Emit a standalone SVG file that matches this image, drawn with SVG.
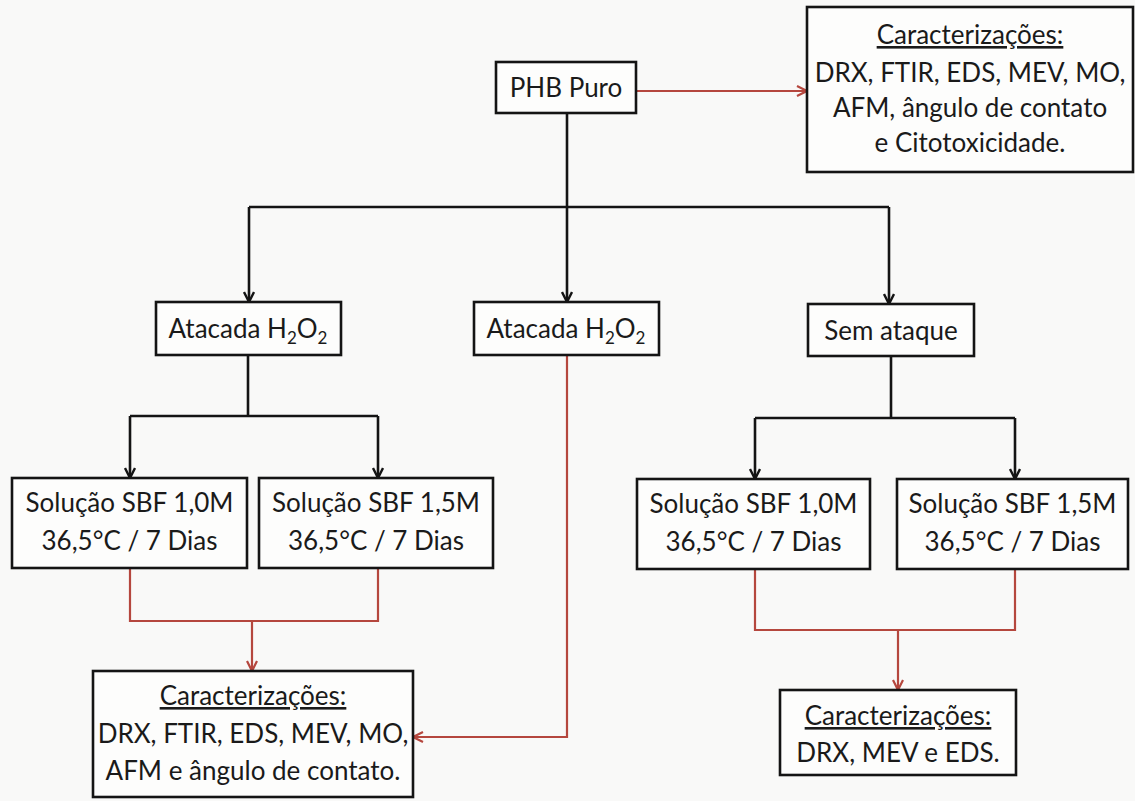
<svg xmlns="http://www.w3.org/2000/svg" width="1135" height="801" viewBox="0 0 1135 801">
<defs>
<style>
.bg{fill:#f9f9f8}
.box{fill:#fdfdfc;stroke:#141414;stroke-width:2.6}
.t{font-family:Lato,"Open Sans","Liberation Sans",sans-serif;font-size:26px;fill:#1a1a1a;text-anchor:middle}
.u{text-decoration:underline}
.sub{font-size:17px}
.blk{fill:none;stroke:#141414;stroke-width:2.6}
.red{fill:none;stroke:#b5473e;stroke-width:2.2}
</style>
<marker id="ab" viewBox="0 0 12 12" refX="11" refY="6" markerWidth="12" markerHeight="12" markerUnits="userSpaceOnUse" orient="auto"><path d="M1,1 L11,6 L1,11" fill="none" stroke="#141414" stroke-width="2.4"/></marker>
<marker id="ar" viewBox="0 0 12 12" refX="11" refY="6" markerWidth="12" markerHeight="12" markerUnits="userSpaceOnUse" orient="auto"><path d="M1,1 L11,6 L1,11" fill="none" stroke="#b5473e" stroke-width="2.2"/></marker>
</defs>
<rect class="bg" x="0" y="0" width="1135" height="801"/>
<g id="connectors">
<path class="blk" d="M567,113 V208"/>
<path class="blk" d="M249,207 H889"/>
<path class="blk" d="M249,207 V302" marker-end="url(#ab)"/>
<path class="blk" d="M567,207 V302" marker-end="url(#ab)"/>
<path class="blk" d="M889,207 V304" marker-end="url(#ab)"/>
<path class="blk" d="M248,355 V416"/>
<path class="blk" d="M130,416 H378"/>
<path class="blk" d="M130,416 V478" marker-end="url(#ab)"/>
<path class="blk" d="M378,416 V478" marker-end="url(#ab)"/>
<path class="blk" d="M891,356 V418"/>
<path class="blk" d="M755,418 H1015"/>
<path class="blk" d="M755,418 V479" marker-end="url(#ab)"/>
<path class="blk" d="M1015,418 V479" marker-end="url(#ab)"/>
<path class="red" d="M636,91 H807" marker-end="url(#ar)"/>
<path class="red" d="M130,568 V621 H378 V568"/>
<path class="red" d="M252,621 V671" marker-end="url(#ar)"/>
<path class="red" d="M567,355 V737 H413" marker-end="url(#ar)"/>
<path class="red" d="M755,569 V630 H1015 V569"/>
<path class="red" d="M898,630 V690" marker-end="url(#ar)"/>
</g>
<g id="phb">
<rect class="box" x="496" y="62" width="140" height="51"/>
<text class="t" x="566" y="97">PHB Puro</text>
</g>
<g id="carac-top">
<rect class="box" x="807" y="7" width="326" height="165"/>
<text class="t" x="970" y="44"><tspan class="u">Caracterizações:</tspan></text>
<text class="t" x="970" y="82">DRX, FTIR, EDS, MEV, MO,</text>
<text class="t" x="970" y="117">AFM, ângulo de contato</text>
<text class="t" x="970" y="152">e Citotoxicidade.</text>
</g>
<g id="atacada1">
<rect class="box" x="156" y="302" width="185" height="53"/>
<text class="t" x="248" y="338">Atacada H<tspan class="sub" dy="6">2</tspan><tspan dy="-6">O</tspan><tspan class="sub" dy="6">2</tspan></text>
</g>
<g id="atacada2">
<rect class="box" x="474" y="302" width="185" height="53"/>
<text class="t" x="566" y="338">Atacada H<tspan class="sub" dy="6">2</tspan><tspan dy="-6">O</tspan><tspan class="sub" dy="6">2</tspan></text>
</g>
<g id="sem-ataque">
<rect class="box" x="808" y="304" width="166" height="52"/>
<text class="t" x="891" y="340">Sem ataque</text>
</g>
<g id="sbf1">
<rect class="box" x="12" y="478" width="235" height="90"/>
<text class="t" x="129.5" y="512">Solução SBF 1,0M</text>
<text class="t" x="129.5" y="550">36,5°C / 7 Dias</text>
</g>
<g id="sbf2">
<rect class="box" x="259" y="478" width="234" height="90"/>
<text class="t" x="376" y="512">Solução SBF 1,5M</text>
<text class="t" x="376" y="550">36,5°C / 7 Dias</text>
</g>
<g id="sbf3">
<rect class="box" x="637" y="479" width="233" height="90"/>
<text class="t" x="753.5" y="513">Solução SBF 1,0M</text>
<text class="t" x="753.5" y="551">36,5°C / 7 Dias</text>
</g>
<g id="sbf4">
<rect class="box" x="897" y="479" width="231" height="90"/>
<text class="t" x="1012.5" y="513">Solução SBF 1,5M</text>
<text class="t" x="1012.5" y="551">36,5°C / 7 Dias</text>
</g>
<g id="carac-left">
<rect class="box" x="93" y="671" width="320" height="126"/>
<text class="t" x="253" y="705"><tspan class="u">Caracterizações:</tspan></text>
<text class="t" x="253" y="743">DRX, FTIR, EDS, MEV, MO,</text>
<text class="t" x="253" y="780">AFM e ângulo de contato.</text>
</g>
<g id="carac-right">
<rect class="box" x="780" y="690" width="236" height="85"/>
<text class="t" x="898" y="725"><tspan class="u">Caracterizações:</tspan></text>
<text class="t" x="898" y="762">DRX, MEV e EDS.</text>
</g>
</svg>
